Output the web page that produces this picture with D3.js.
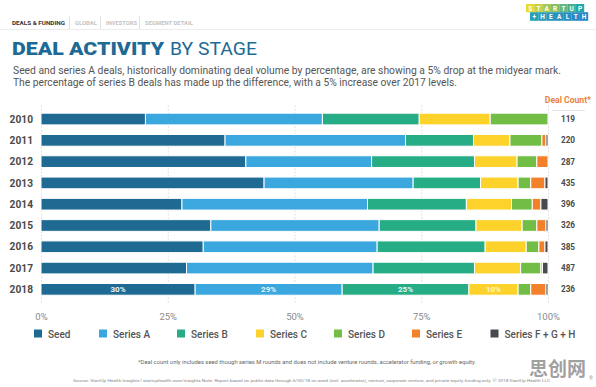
<!DOCTYPE html>
<html>
<head>
<meta charset="utf-8">
<script src="https://cdn.jsdelivr.net/npm/d3@7"></script>
<style>
  body { margin: 0; background: #fff; }
  svg { display: block; font-family: Roboto, "Open Sans", sans-serif; }
</style>
</head>
<body>
<svg id="chart" width="596" height="387"></svg>
<script>
var years = ['2010', '2011', '2012', '2013', '2014', '2015', '2016', '2017', '2018'];
var stages = ['Seed', 'Series A', 'Series B', 'Series C', 'Series D', 'Series E', 'Series F + G + H'];
var colors = ['#1f6a93', '#3aa7de', '#26ad85', '#fdd22a', '#72bd45', '#f3802a', '#474a4f'];

// percent share of deals per stage, one array per stage
var seed    = [20.6, 36.3, 40.4, 44.0, 27.8, 33.5, 32.0, 28.7, 30.4];
var seriesA = [34.9, 35.6, 24.8, 29.4, 36.6, 33.2, 34.3, 36.8, 29.0];
var seriesB = [19.1, 13.4, 20.3, 13.3, 19.5, 19.1, 21.3, 20.0, 25.0];
var seriesC = [14.0,  7.2,  8.4,  7.4,  8.9,  9.1,  8.1,  9.1,  9.7];
var seriesD = [11.4,  6.3,  3.9,  2.5,  4.1,  2.9,  2.5,  4.0,  2.5];
var seriesE = [ 0.0,  0.8,  2.2,  2.8,  1.7,  1.8,  1.2,  0.3,  3.0];
var seriesF = [ 0.0,  0.4,  0.0,  0.6,  1.4,  0.4,  0.6,  1.1,  0.4];
var dealCount = [119, 220, 287, 435, 396, 326, 385, 487, 236];
var labels2018 = ['30%', '29%', '25%', '10%'];
var ticks = [0, 25, 50, 75, 100];

var all = [seed, seriesA, seriesB, seriesC, seriesD, seriesE, seriesF];
var rows = years.map(function(y, i){
	var r = {year: y};
	stages.forEach(function(s, j){ r[s] = all[j][i]; });
	return r;
});

var svg = d3.select('#chart');

// ---- header strip
svg.append('line').attr('x1', 0).attr('x2', 596).attr('y1', 29.5).attr('y2', 29.5)
	.attr('stroke', '#ececec');
var nav = [['DEALS & FUNDING', 12, '#333', 53], ['GLOBAL', 75, '#c4c4c4', 22],
           ['INVESTORS', 106, '#c4c4c4', 31], ['SEGMENT DETAIL', 145, '#c4c4c4', 48]];
nav.forEach(function(n, i){
	svg.append('text').attr('x', n[1]).attr('y', 25).text(n[0])
		.attr('font-size', '5.6px').attr('font-weight', 'bold').attr('fill', n[2])
		.attr('textLength', n[3]).attr('lengthAdjust', 'spacingAndGlyphs');
	if(i > 0){
		svg.append('line').attr('x1', n[1] - 5.5).attr('x2', n[1] - 5.5)
			.attr('y1', 16).attr('y2', 29).attr('stroke', '#e2e2e2');
	}
});

// logo
var logoTop = 'STARTUP'.split(''), logoBot = '+HEALTH'.split('');
var topCol = d3.scaleLinear().domain([0, 6]).range(['#e6da2c', '#25a7a6']);
var botCol = d3.scaleLinear().domain([0, 6]).range(['#27a0b5', '#2a86c8']);
logoTop.forEach(function(c, i){
	svg.append('rect').attr('x', 526 + i * 8.3).attr('y', 4).attr('width', 8.4).attr('height', 8.2)
		.attr('fill', topCol(i));
	svg.append('text').attr('x', 530.2 + i * 8.3).attr('y', 10.8).text(c)
		.attr('text-anchor', 'middle').attr('font-size', '6.5px').attr('font-weight', 'bold').attr('fill', '#fff');
});
logoBot.forEach(function(c, i){
	svg.append('rect').attr('x', 530 + i * 8.3).attr('y', 12.2).attr('width', 8.4).attr('height', 8.6)
		.attr('fill', botCol(i));
	svg.append('text').attr('x', 534.2 + i * 8.3).attr('y', 19.2).text(c)
		.attr('text-anchor', 'middle').attr('font-size', '6.5px').attr('font-weight', 'bold').attr('fill', '#fff');
});

// ---- title + subtitle
svg.append('text').attr('x', 12).attr('y', 55).text('DEAL ACTIVITY')
	.attr('font-size', '19px').attr('font-weight', 900).attr('fill', '#1e6a96')
	.attr('textLength', 152).attr('lengthAdjust', 'spacingAndGlyphs');
svg.append('text').attr('x', 170).attr('y', 55).text('BY STAGE')
	.attr('font-size', '19px').attr('fill', '#1e6a96')
	.attr('textLength', 87).attr('lengthAdjust', 'spacingAndGlyphs');
svg.append('text').attr('x', 13).attr('y', 74)
	.text('Seed and series A deals, historically dominating deal volume by percentage, are showing a 5% drop at the midyear mark.')
	.attr('font-size', '10.2px').attr('fill', '#555')
	.attr('textLength', 548).attr('lengthAdjust', 'spacingAndGlyphs');
svg.append('text').attr('x', 13).attr('y', 86)
	.text('The percentage of series B deals has made up the difference, with a 5% increase over 2017 levels.')
	.attr('font-size', '10.2px').attr('fill', '#555')
	.attr('textLength', 444).attr('lengthAdjust', 'spacingAndGlyphs');

// ---- scales
var x = d3.scaleLinear().domain([0, 100]).range([41, 548]);
var y = d3.scaleBand().domain(years).range([108.4, 300]).paddingInner(0.45).paddingOuter(0.225);

// grid
svg.append('g').selectAll('line').data(ticks).enter().append('line')
	.attr('x1', function(d){ return x(d) + 0.5; })
	.attr('x2', function(d){ return x(d) + 0.5; })
	.attr('y1', 105).attr('y2', 303)
	.attr('stroke', '#d8d8d8').attr('stroke-width', 0.8)
	.attr('stroke-dasharray', '2,1.5');

var xAxis = svg.append('g').attr('transform', 'translate(0,303)')
	.call(d3.axisBottom(x).tickValues(ticks).tickSize(0).tickPadding(10)
		.tickFormat(function(d){ return d + '%'; }));
xAxis.select('.domain').remove();
xAxis.selectAll('text').attr('font-size', '9.5px').attr('fill', '#8a8a8a')
	.attr('font-family', 'Roboto, sans-serif');

// bars
var stack = d3.stack().keys(stages)(rows);
var layers = svg.append('g').selectAll('g').data(stack).enter().append('g')
	.attr('fill', function(d, i){ return colors[i]; });
layers.selectAll('rect').data(function(d){ return d; }).enter().append('rect')
	.filter(function(d){ return d[1] - d[0] > 0; })
	.attr('x', function(d){ return x(d[0]); })
	.attr('width', function(d){ return x(d[1]) - x(d[0]); })
	.attr('y', function(d){ return y(d.data.year); })
	.attr('height', y.bandwidth())
	.attr('stroke', '#fff').attr('stroke-width', 1);

// 2018 inside labels
var last = stack.slice(0, labels2018.length).map(function(s, i){
	var d = s[s.length - 1];
	return {label: labels2018[i], mid: (d[0] + d[1]) / 2, year: d.data.year};
});
svg.append('g').selectAll('text').data(last).enter().append('text')
	.attr('x', function(d){ return x(d.mid); })
	.attr('y', function(d){ return y(d.year) + y.bandwidth() / 2 + 3; })
	.attr('text-anchor', 'middle')
	.attr('font-size', '8px').attr('font-weight', 'bold')
	.attr('fill', function(d, i){ return i == 3 ? '#fff6cc' : '#e8f4f8'; })
	.text(function(d){ return d.label; });

// year labels
svg.append('g').selectAll('text').data(years).enter().append('text')
	.attr('x', 33).attr('y', function(d){ return y(d) + y.bandwidth() / 2 + 3.6; })
	.attr('text-anchor', 'end')
	.attr('font-size', '10.2px').attr('font-weight', 'bold').attr('fill', '#4a4a4a')
	.text(function(d){ return d; });

// deal counts
svg.append('text').attr('x', 591).attr('y', 103).attr('text-anchor', 'end')
	.text('Deal Count*').attr('font-size', '8.6px').attr('font-weight', 'bold').attr('fill', '#e8833e');
svg.append('line').attr('x1', 552).attr('x2', 585).attr('y1', 110.5).attr('y2', 110.5)
	.attr('stroke', '#e6e6e6');
svg.append('g').selectAll('text').data(dealCount).enter().append('text')
	.attr('x', 568).attr('y', function(d, i){ return y(years[i]) + y.bandwidth() / 2 + 3; })
	.attr('text-anchor', 'middle')
	.attr('font-size', '8.2px').attr('font-weight', 'bold').attr('fill', '#4a4a4a')
	.text(function(d){ return d; });

// legend
var legX = [34, 99, 177, 256, 334, 412, 490.5];
var leg = svg.append('g').selectAll('g').data(stages).enter().append('g')
	.attr('transform', function(d, i){ return 'translate(' + legX[i] + ',329.5)'; });
leg.append('rect').attr('width', 8).attr('height', 8)
	.attr('fill', function(d, i){ return colors[i]; });
leg.append('text').attr('x', 14).attr('y', 8.2).text(function(d){ return d; })
	.attr('font-size', '10px').attr('font-weight', 500).attr('fill', '#555');

// footnotes
svg.append('text').attr('x', 307).attr('y', 364).attr('text-anchor', 'middle')
	.text('*Deal count only includes seed though series M rounds and does not include venture rounds, accelerator funding, or growth equity.')
	.attr('font-size', '5.4px').attr('fill', '#666')
	.attr('textLength', 338).attr('lengthAdjust', 'spacingAndGlyphs');
svg.append('text').attr('x', 73).attr('y', 381.5)
	.text('Source: StartUp Health Insights | startuphealth.com/insights   Note: Report based on public data through 6/30/18 on seed (incl. accelerator), venture, corporate venture, and private equity funding only. \u00a9 2018 StartUp Health LLC')
	.attr('font-size', '4.2px').attr('fill', '#888')
	.attr('textLength', 477).attr('lengthAdjust', 'spacingAndGlyphs');

// watermark
svg.append('text').attr('x', 529).attr('y', 376).text('思创网')
	.attr('font-family', '"Noto Sans CJK SC", sans-serif').attr('font-weight', 'bold')
	.attr('font-size', '19px').attr('fill', '#8f8f8f').attr('fill-opacity', 0.85);
svg.append('text').attr('x', 589).attr('y', 380).text('®')
	.attr('font-size', '5px').attr('fill', '#999');
</script>
</body>
</html>
